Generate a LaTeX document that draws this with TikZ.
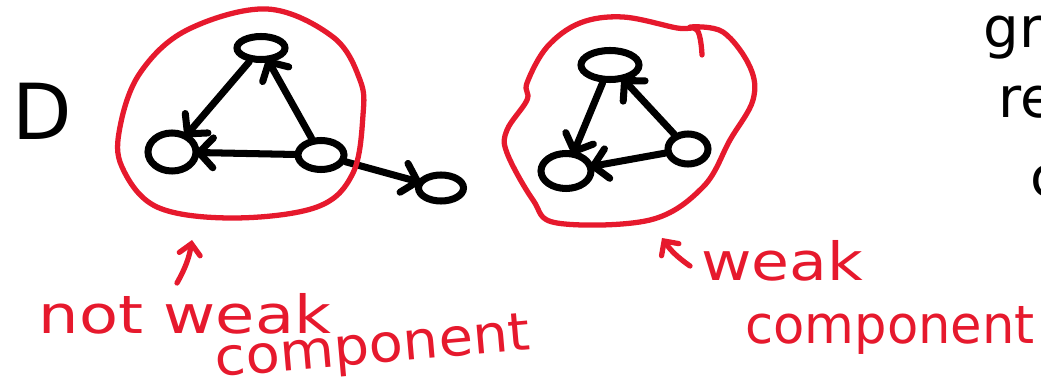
\documentclass[tikz,border=0pt]{standalone}
\usepackage{fontspec}
\setmainfont{DejaVu Sans}
\usetikzlibrary{shapes.geometric,arrows.meta}
\definecolor{ink}{RGB}{0,0,0}
\definecolor{pen}{RGB}{230,25,45}
\begin{document}
\begin{tikzpicture}[x=0.02cm,y=-0.02cm,
  vtx/.style={draw=ink,line width=4pt,ellipse,inner sep=0pt},
  edge/.style={draw=ink,line width=4pt,line cap=round,shorten >=-3pt,
    -{Straight Barb[length=8pt,width=17pt,line cap=round]}},
  loopline/.style={draw=pen,line width=3pt,line cap=round,line join=round},
  redarrow/.style={draw=pen,line width=3pt,line cap=round,
    -{Straight Barb[length=6pt,width=12pt,line cap=round]}},
  note/.style={text=pen,font=\fontsize{30}{34}\selectfont,inner sep=0pt,anchor=base},
  blacktext/.style={text=ink,font=\fontsize{32}{36}\selectfont,inner sep=0pt,anchor=base west}]
\useasboundingbox (0,0) rectangle (1041,388);
\clip (0,0) rectangle (1041,388);

% D label
\node[text=ink,font=\fontsize{44}{48}\selectfont,inner sep=0pt,anchor=base] (D) at (42,140) {D};

% left graph
\node[vtx,minimum width=0.96cm,minimum height=0.46cm] (L1t) at (261,48) {};
\node[vtx,minimum width=0.96cm,minimum height=0.76cm] (L1l) at (172,152) {};
\node[vtx,minimum width=0.92cm,minimum height=0.58cm] (L1r) at (321,155) {};
\node[vtx,minimum width=0.90cm,minimum height=0.52cm] (L1x) at (441,188) {};
\draw[edge] (L1t) -- (L1l);
\draw[edge] (L1r) -- (L1t);
\draw[edge] (L1r) -- (L1l);
\draw[edge] (L1r) -- (L1x);

% right graph
\node[vtx,minimum width=1.16cm,minimum height=0.58cm] (R1t) at (610,65) {};
\node[vtx,minimum width=1.00cm,minimum height=0.70cm] (R1l) at (566,171) {};
\node[vtx,minimum width=0.80cm,minimum height=0.60cm] (R1r) at (688,149) {};
\draw[edge] (R1t) -- (R1l);
\draw[edge] (R1r) -- (R1t);
\draw[edge] (R1r) -- (R1l);

% red loops
\draw[loopline] plot[smooth cycle,tension=0.6] coordinates {
  (267,9) (333,37) (360,80) (363,115) (353,173) (317,207) (233,218)
  (157,207) (122,167) (120,127) (140,73) (187,30)};
\draw[loopline] plot[smooth,tension=0.6] coordinates {
  (702,55) (697,30) (677,28) (623,17) (580,23) (547,47) (527,83) (527,100)
  (507,130) (507,153) (533,200) (557,223) (650,220) (703,187) (730,140)
  (753,100) (750,67) (723,32) (690,27)};

% annotations
\coordinate (a1s) at (177,283);
\coordinate (a1e) at (192,240);
\draw[redarrow] (a1s) to[bend right=10] (a1e);
\coordinate (a2s) at (690,266);
\coordinate (a2e) at (662,238);
\draw[redarrow] (a2s) to[bend left=10] (a2e);

\node[note,xscale=1.21] (nw) at (185,333) {not weak};
\node[note,rotate=5,xscale=1.06] (nc) at (374,363) {component};
\node[note,xscale=1.17] (wk) at (782,280) {weak};
\node[note,xscale=0.97] (wc) at (890,343) {component};

% cut-off text at right edge
\node[blacktext] (gr) at (983,48) {gr};
\node[blacktext] (re) at (998,118) {re};
\node[blacktext] (cc) at (1030,197) {c};
\end{tikzpicture}
\end{document}
